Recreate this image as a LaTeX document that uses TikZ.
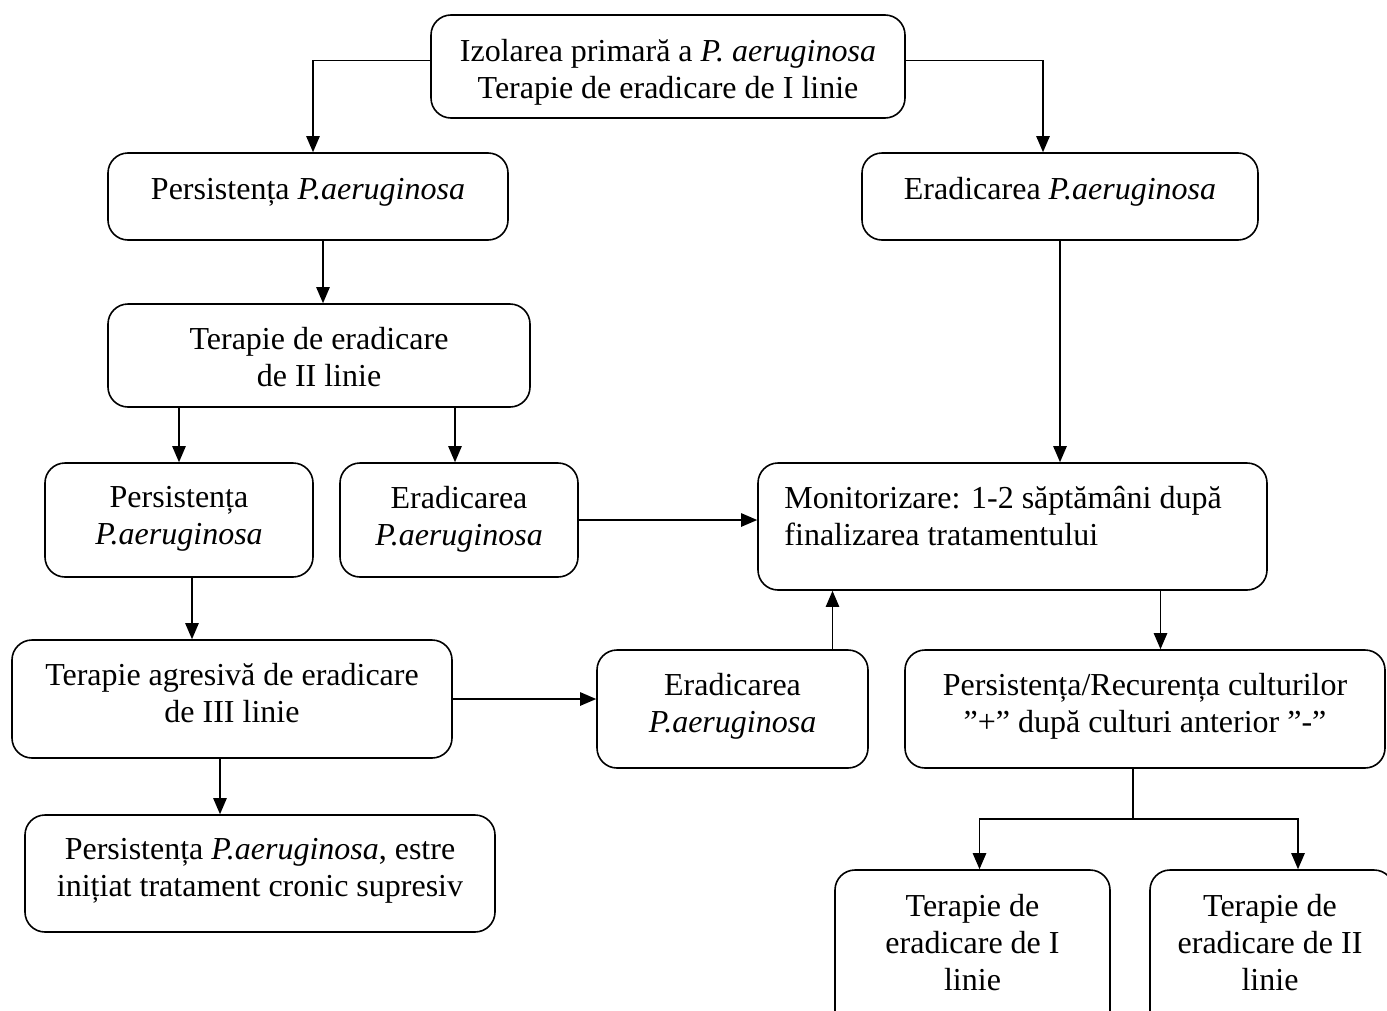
\documentclass[tikz,border=0pt]{standalone}
\usepackage{fontspec}
\setmainfont{Liberation Serif}
\usetikzlibrary{arrows.meta,calc,fit}

\tikzset{
  box/.style={draw, rounded corners=15pt, line width=1.2pt, inner sep=0pt},
  txt/.style={align=center, inner sep=0pt, anchor=north, font=\fontsize{24}{27.75}\selectfont, execute at begin node=\strut},
  arr/.style={line width=1.1pt, -{Triangle[length=12pt,width=10pt]}},
  ln/.style={line width=1.1pt}
}

\begin{document}
\begin{tikzpicture}[x=0.75pt,y=0.75pt,yscale=-1,xscale=1]
\useasboundingbox (0,0) rectangle (1387,1010);
\clip (0,0) rectangle (1387,1010);

% Boxes
\node[box, fit={(431,15) (905,118)}] (izol) {};
\node[box, fit={(108,153) (508,240)}] (pers1) {};
\node[box, fit={(862,153) (1258,240)}] (erad1) {};
\node[box, fit={(108,304) (530,407)}] (ter2) {};
\node[box, fit={(45,463) (313,577)}] (pers2) {};
\node[box, fit={(340,463) (578,577)}] (erad2) {};
\node[box, fit={(758,463) (1267,590)}] (monit) {};
\node[box, fit={(12,640) (452,758)}] (ter3) {};
\node[box, fit={(597,650) (868,768)}] (erad3) {};
\node[box, fit={(905,650) (1385,768)}] (recur) {};
\node[box, fit={(25,815) (495,932)}] (cronic) {};
\node[box, fit={(835,870) (1110,1040)}] (reter1) {};
\node[box, fit={(1150,870) (1394,1040)}] (reter2) {};

% Text Node
\node[txt] (izolt) at ($(izol.north)+(0,25)$) {Izolarea primară a \textit{P. aeruginosa}\\Terapie de eradicare de I linie};
\node[txt] (pers1t) at ($(pers1.north)+(0,21)$) {Persistența \textit{P.aeruginosa}};
\node[txt] (erad1t) at ($(erad1.north)+(0,21)$) {Eradicarea \textit{P.aeruginosa}};
\node[txt] (ter2t) at ($(ter2.north)+(0,24)$) {Terapie de eradicare\\de II linie};
\node[txt] (pers2t) at ($(pers2.north)+(0,24)$) {Persistența\\\textit{P.aeruginosa}};
\node[txt] (erad2t) at ($(erad2.north)+(0,24)$) {Eradicarea\\\textit{P.aeruginosa}};
\node[txt, anchor=north west, align=left] (monitt) at ($(monit.north west)+(27,24)$) {Monitorizare: 1-2 săptămâni după\\finalizarea tratamentului};
\node[txt] (ter3t) at ($(ter3.north)+(0,24)$) {Terapie agresivă de eradicare\\de III linie};
\node[txt] (erad3t) at ($(erad3.north)+(0,24)$) {Eradicarea\\\textit{P.aeruginosa}};
\node[txt] (recurt) at ($(recur.north)+(0,24)$) {Persistența/Recurența culturilor\\”+” după culturi anterior ”-”};
\node[txt] (cronict) at ($(cronic.north)+(0,24)$) {Persistența \textit{P.aeruginosa}, estre\\inițiat tratament cronic supresiv};
\node[txt] (reter1t) at ($(reter1.north)+(0,25)$) {Terapie de\\eradicare de I\\linie};
\node[txt] (reter2t) at ($(reter2.north)+(-2,25)$) {Terapie de\\eradicare de II\\linie};

% Connectors
\draw[arr] ($(izol.west)+(0,-6)$) -| ($(pers1.north)+(5,0)$);
\draw[arr] ($(izol.east)+(0,-6)$) -| ($(erad1.north)+(-17,0)$);
\draw[arr] ($(pers1.south)+(15,0)$) -- ($(ter2.north)+(4,0)$);
\draw[arr] (ter2.south -| pers2.north) -- (pers2.north);
\draw[arr] ($(ter2.south -| erad2.north)+(-4,0)$) -- ($(erad2.north)+(-4,0)$);
\draw[arr] (erad1.south) -- (erad1.south |- monit.north);
\draw[arr] (erad2.east) -- (erad2.east -| monit.west);
\draw[arr] ($(pers2.south)+(13,0)$) -- ($(pers2.south |- ter3.north)+(13,0)$);
\draw[arr] (ter3.east) -- (ter3.east -| erad3.west);
\draw[arr] ($(erad3.north)+(100,0)$) -- ($(erad3.north |- monit.south)+(100,0)$);
\draw[arr] ($(ter3.south)+(-12,0)$) -- ($(ter3.south |- cronic.north)+(-12,0)$);
\draw[arr] ($(monit.south)+(148,0)$) -- ($(monit.south |- recur.north)+(148,0)$);
\coordinate (split) at ($(recur.south)+(-12,50)$);
\draw[ln] ($(recur.south)+(-12,0)$) -- (split);
\draw[arr] (split) -| ($(reter1.north)+(7,0)$);
\draw[arr] (split) -| ($(reter2.north)+(26,0)$);

\end{tikzpicture}
\end{document}
